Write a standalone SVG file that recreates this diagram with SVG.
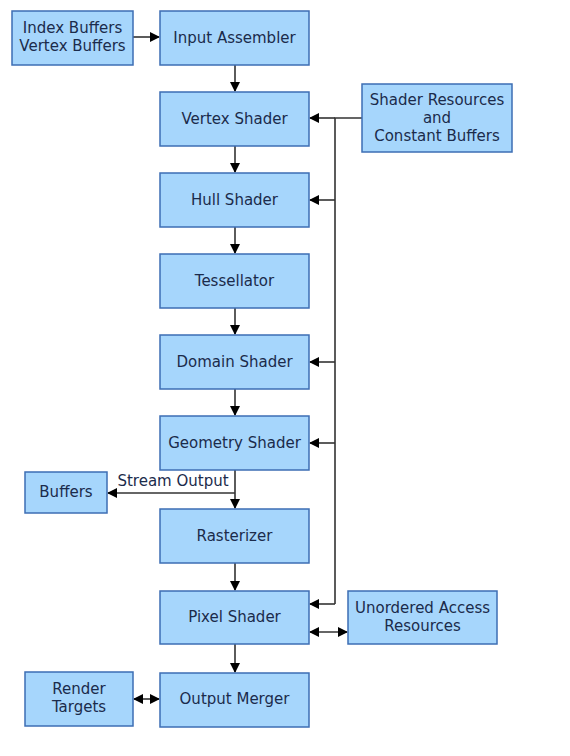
<svg xmlns="http://www.w3.org/2000/svg" width="570" height="756" viewBox="0 0 570 756">
<defs>
<style>
.box{fill:#a6d6fc;stroke:#3d6eb4;stroke-width:1.5}
.t{font-family:"DejaVu Sans",Verdana,sans-serif;font-size:15px;fill:#1b2b4b;text-anchor:middle;dominant-baseline:central}
.c{stroke:#333;stroke-width:1.6;fill:none}
</style>
<marker id="a" markerWidth="10" markerHeight="10" refX="9" refY="5" orient="auto-start-reverse" markerUnits="userSpaceOnUse">
<path d="M0,0 L10,5 L0,10 Z" fill="#000"/>
</marker>
</defs>
<rect width="570" height="756" fill="#fff"/>
<g id="connectors">
<line class="c" x1="133" y1="37" x2="159" y2="37" marker-end="url(#a)"/>
<line class="c" x1="235" y1="65" x2="235" y2="91" marker-end="url(#a)"/>
<line class="c" x1="235" y1="146" x2="235" y2="172" marker-end="url(#a)"/>
<line class="c" x1="235" y1="227" x2="235" y2="253" marker-end="url(#a)"/>
<line class="c" x1="235" y1="308" x2="235" y2="334" marker-end="url(#a)"/>
<line class="c" x1="235" y1="389" x2="235" y2="415" marker-end="url(#a)"/>
<line class="c" x1="235" y1="470" x2="235" y2="508" marker-end="url(#a)"/>
<line class="c" x1="235" y1="493" x2="108" y2="493" marker-end="url(#a)"/>
<line class="c" x1="235" y1="563" x2="235" y2="590" marker-end="url(#a)"/>
<line class="c" x1="235" y1="644" x2="235" y2="672" marker-end="url(#a)"/>
<path class="c" d="M362,118 L335,118 L335,604"/>
<line class="c" x1="335" y1="118" x2="310" y2="118" marker-end="url(#a)"/>
<line class="c" x1="335" y1="200" x2="310" y2="200" marker-end="url(#a)"/>
<line class="c" x1="335" y1="362" x2="310" y2="362" marker-end="url(#a)"/>
<line class="c" x1="335" y1="443" x2="310" y2="443" marker-end="url(#a)"/>
<line class="c" x1="335" y1="604" x2="310" y2="604" marker-end="url(#a)"/>
<line class="c" x1="310" y1="632" x2="347" y2="632" marker-start="url(#a)" marker-end="url(#a)"/>
<line class="c" x1="134" y1="699" x2="159" y2="699" marker-start="url(#a)" marker-end="url(#a)"/>
<text x="173" y="481" class="t">Stream Output</text>
</g>
<g id="buffers-in"><rect class="box" x="12" y="11" width="121" height="54"/><text class="t" x="72.5" y="28">Index Buffers</text><text class="t" x="72.5" y="46">Vertex Buffers</text></g>
<g id="input-assembler"><rect class="box" x="160" y="11" width="149" height="54"/><text class="t" x="234.5" y="38">Input Assembler</text></g>
<g id="vertex-shader"><rect class="box" x="160" y="92" width="149" height="54"/><text class="t" x="234.5" y="119">Vertex Shader</text></g>
<g id="hull-shader"><rect class="box" x="160" y="173" width="149" height="54"/><text class="t" x="234.5" y="200">Hull Shader</text></g>
<g id="tessellator"><rect class="box" x="160" y="254" width="149" height="54"/><text class="t" x="234.5" y="281">Tessellator</text></g>
<g id="domain-shader"><rect class="box" x="160" y="335" width="149" height="54"/><text class="t" x="234.5" y="362">Domain Shader</text></g>
<g id="geometry-shader"><rect class="box" x="160" y="416" width="149" height="54"/><text class="t" x="234.5" y="443">Geometry Shader</text></g>
<g id="rasterizer"><rect class="box" x="160" y="509" width="149" height="54"/><text class="t" x="234.5" y="536">Rasterizer</text></g>
<g id="pixel-shader"><rect class="box" x="160" y="591" width="149" height="53"/><text class="t" x="234.5" y="617">Pixel Shader</text></g>
<g id="output-merger"><rect class="box" x="160" y="673" width="149" height="54"/><text class="t" x="234.5" y="699">Output Merger</text></g>
<g id="shader-resources"><rect class="box" x="362" y="84" width="150" height="68"/><text class="t" x="437" y="100">Shader Resources</text><text class="t" x="437" y="118">and</text><text class="t" x="437" y="136">Constant Buffers</text></g>
<g id="stream-buffers"><rect class="box" x="25" y="472" width="82" height="41"/><text class="t" x="66" y="492">Buffers</text></g>
<g id="uav"><rect class="box" x="348" y="591" width="149" height="53"/><text class="t" x="422.5" y="608">Unordered Access</text><text class="t" x="422.5" y="626">Resources</text></g>
<g id="render-targets"><rect class="box" x="25" y="672" width="108" height="54"/><text class="t" x="79" y="689">Render</text><text class="t" x="79" y="707">Targets</text></g>
</svg>
